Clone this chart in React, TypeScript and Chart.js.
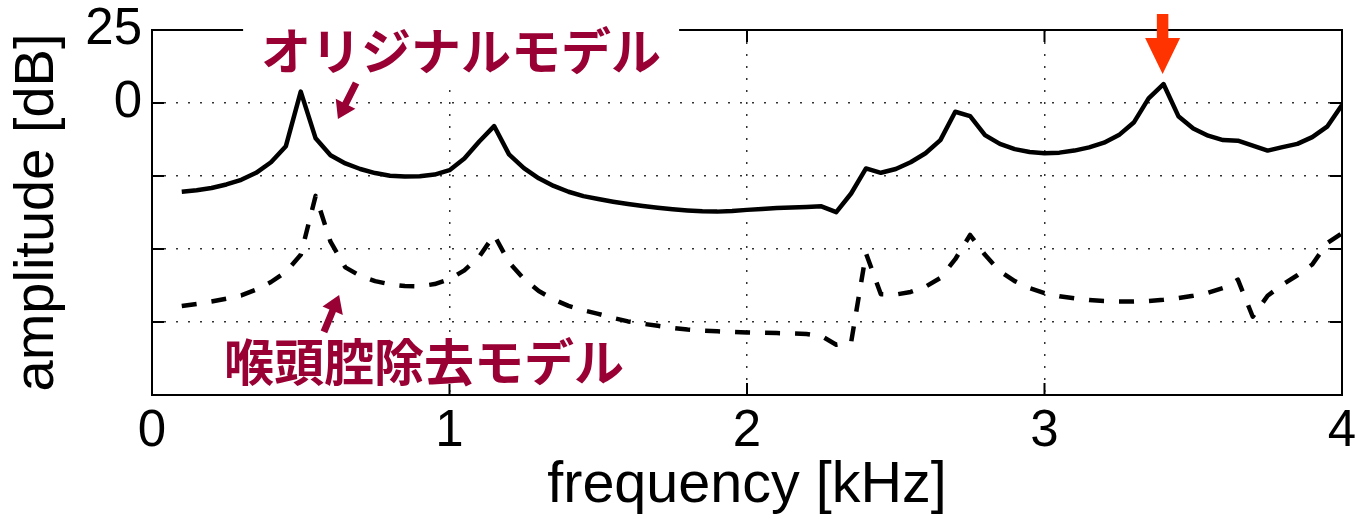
import React, { useEffect, useRef } from 'react';
import { Chart, registerables } from 'chart.js';

Chart.register(...registerables);

// ---- data ----
const frequencyKHz = [
  0.10, 0.15, 0.20, 0.25, 0.30, 0.35, 0.40, 0.45, 0.50, 0.55,
  0.60, 0.65, 0.70, 0.75, 0.80, 0.85, 0.90, 0.95, 1.00, 1.05,
  1.10, 1.15, 1.20, 1.25, 1.30, 1.35, 1.40, 1.45, 1.50, 1.55,
  1.60, 1.65, 1.70, 1.75, 1.80, 1.85, 1.90, 1.95, 2.00, 2.05,
  2.10, 2.15, 2.20, 2.25, 2.30, 2.35, 2.40, 2.45, 2.50, 2.55,
  2.60, 2.65, 2.70, 2.75, 2.80, 2.85, 2.90, 2.95, 3.00, 3.05,
  3.10, 3.15, 3.20, 3.25, 3.30, 3.35, 3.40, 3.45, 3.50, 3.55,
  3.60, 3.65, 3.70, 3.75, 3.80, 3.85, 3.90, 3.95, 4.00,
];

const originalModelDb = [
  -30.4, -29.9, -29.1, -27.9, -26.3, -23.9, -20.3, -14.8, 3.9, -12.1,
  -17.9, -20.7, -22.6, -24.0, -24.9, -25.2, -25.1, -24.5, -23.0, -19.0,
  -13.2, -7.9, -17.6, -22.3, -25.8, -28.4, -30.4, -31.9, -32.9, -33.8,
  -34.6, -35.3, -35.9, -36.4, -36.8, -37.1, -37.2, -37.0, -36.6, -36.3,
  -36.0, -35.8, -35.6, -35.4, -37.4, -31.0, -22.4, -23.9, -22.6, -20.3,
  -17.2, -12.7, -3.0, -4.5, -11.0, -14.0, -15.8, -16.8, -17.2, -17.0,
  -16.3, -15.2, -13.6, -11.0, -6.7, 1.6, 6.5, -4.5, -8.7, -11.2,
  -12.7, -12.9, -14.6, -16.3, -15.1, -14.0, -11.7, -8.1, -0.7,
];

const larynxRemovedDb = [
  -69.5, -68.8, -68.0, -67.0, -65.9, -63.9, -61.3, -57.8, -52.0, -31.8,
  -47.5, -56.3, -59.2, -61.0, -62.1, -62.7, -62.8, -62.0, -60.3, -57.3,
  -52.6, -45.2, -54.6, -60.2, -64.4, -67.3, -69.5, -71.0, -72.2, -73.6,
  -74.8, -75.6, -76.3, -77.0, -77.6, -78.0, -78.2, -78.4, -78.6, -78.7,
  -78.8, -78.9, -79.1, -79.8, -82.8, -82.0, -51.5, -65.5, -65.6, -64.7,
  -62.9, -59.9, -53.5, -45.2, -52.0, -57.6, -61.0, -63.4, -65.1, -66.2,
  -66.9, -67.5, -67.8, -68.0, -68.0, -67.8, -67.4, -66.8, -66.0, -65.0,
  -63.4, -60.5, -73.2, -66.0, -62.2, -59.0, -55.3, -48.0, -44.6,
];

const xTickValues = [0, 1, 2, 3, 4];
const yTickValues = [25, 0, -25, -50, -75, -100];
const yLabeledTicks = [25, 0];

const xTitle = 'frequency [kHz]';
const yTitle = 'amplitude [dB]';
const originalLabel = 'オリジナルモデル';
const removedLabel = '喉頭腔除去モデル';

const ANNOT = '#990033';
const RED = '#FF3300';
const AXIS_FONT = '"Liberation Sans", Arial, Helvetica, sans-serif';
const CJK_FONT = '"Noto Sans CJK JP", "Noto Sans CJK SC", sans-serif';

function drawArrow(
  ctx: CanvasRenderingContext2D,
  x0: number, y0: number, x1: number, y1: number,
  shaftW: number, headLen: number, headW: number, color: string,
) {
  const dx = x1 - x0, dy = y1 - y0;
  const L = Math.hypot(dx, dy);
  const ux = dx / L, uy = dy / L;
  const px = -uy, py = ux;
  const bx = x1 - ux * headLen, by = y1 - uy * headLen;
  ctx.save();
  ctx.fillStyle = color;
  ctx.beginPath();
  ctx.moveTo(x0 + px * shaftW / 2, y0 + py * shaftW / 2);
  ctx.lineTo(bx + px * shaftW / 2, by + py * shaftW / 2);
  ctx.lineTo(bx + px * headW / 2, by + py * headW / 2);
  ctx.lineTo(x1, y1);
  ctx.lineTo(bx - px * headW / 2, by - py * headW / 2);
  ctx.lineTo(bx - px * shaftW / 2, by - py * shaftW / 2);
  ctx.lineTo(x0 - px * shaftW / 2, y0 - py * shaftW / 2);
  ctx.closePath();
  ctx.fill();
  ctx.restore();
}

const frameAndAnnotations = {
  id: 'frameAndAnnotations',
  afterDatasetsDraw(chart: any) {
    const { ctx, chartArea: a, scales } = chart;
    const xs = scales.x, ys = scales.y;
    ctx.save();
    ctx.strokeStyle = '#000';
    ctx.lineWidth = 2;
    ctx.setLineDash([]);
    ctx.strokeRect(a.left, a.top, a.right - a.left, a.bottom - a.top);
    const tl = 12;
    ctx.beginPath();
    for (const v of yTickValues) {
      const y = ys.getPixelForValue(v);
      ctx.moveTo(a.left, y); ctx.lineTo(a.left + tl, y);
      ctx.moveTo(a.right, y); ctx.lineTo(a.right - tl, y);
    }
    for (const v of xTickValues) {
      const x = xs.getPixelForValue(v);
      ctx.moveTo(x, a.bottom); ctx.lineTo(x, a.bottom - tl);
      ctx.moveTo(x, a.top); ctx.lineTo(x, a.top + tl);
    }
    ctx.stroke();
    ctx.restore();
  },
  afterDraw(chart: any) {
    const { ctx, scales } = chart;
    const xs = scales.x, ys = scales.y;
    const X = (v: number) => xs.getPixelForValue(v);
    const Y = (v: number) => ys.getPixelForValue(v);
    ctx.save();
    ctx.textAlign = 'center';
    ctx.textBaseline = 'middle';

    // label 1 with white background box
    ctx.font = `bold 50px ${CJK_FONT}`;
    const c1x = X(1.039), c1y = Y(17.8);
    const w1 = ctx.measureText(originalLabel).width;
    ctx.fillStyle = '#fff';
    ctx.fillRect(c1x - w1 / 2 - 18, c1y - 41, w1 + 36, 76);
    ctx.fillStyle = ANNOT;
    ctx.fillText(originalLabel, c1x, c1y);

    // label 2
    const c2x = X(0.914), c2y = Y(-88.7);
    const w2 = ctx.measureText(removedLabel).width;
    ctx.fillStyle = '#fff';
    ctx.fillRect(c2x - w2 / 2 - 4, c2y - 25, w2 + 8, 47);
    ctx.fillStyle = ANNOT;
    ctx.fillText(removedLabel, c2x, c2y);

    // annotation arrows
    drawArrow(ctx, X(0.686), Y(6.85), X(0.625), Y(-5.48), 7, 17, 22, ANNOT);
    drawArrow(ctx, X(0.578), Y(-78.4), X(0.629), Y(-65.75), 7, 17, 22, ANNOT);
    drawArrow(ctx, X(3.397), Y(30.5), X(3.397), Y(9.9), 11.5, 36, 35, RED);
    ctx.restore();
  },
};

const zeroPadding = (s: any) => {
  s.paddingTop = 0;
  s.paddingBottom = 0;
  s.paddingLeft = 0;
  s.paddingRight = 0;
};

export default function App() {
  const ref = useRef<HTMLCanvasElement>(null);
  useEffect(() => {
    if (!ref.current) return;
    const chart = new Chart(ref.current, {
      type: 'line',
      data: {
        datasets: [
          {
            label: originalLabel,
            data: frequencyKHz.map((f, i) => ({ x: f, y: originalModelDb[i] })),
            borderColor: '#000',
            borderWidth: 4.5,
            pointRadius: 0,
            tension: 0,
            borderJoinStyle: 'round',
            fill: false,
          },
          {
            label: removedLabel,
            data: frequencyKHz.map((f, i) => ({ x: f, y: larynxRemovedDb[i] })),
            borderColor: '#000',
            borderWidth: 4.5,
            borderDash: [15, 15],
            pointRadius: 0,
            tension: 0,
            borderJoinStyle: 'round',
            fill: false,
          },
        ],
      },
      options: {
        animation: false,
        responsive: false,
        devicePixelRatio: 1,
        layout: { padding: { top: 30, right: 15, left: 0, bottom: 0 } },
        plugins: { legend: { display: false }, tooltip: { enabled: false } },
        scales: {
          x: {
            type: 'linear',
            min: 0,
            max: 4,
            afterBuildTicks: (s: any) => { s.ticks = xTickValues.map((v) => ({ value: v })); },
            afterFit: (s: any) => { s.height = 124; zeroPadding(s); },
            ticks: {
              color: '#000',
              padding: 6,
              font: { family: AXIS_FONT, size: 51 },
              maxRotation: 0,
              callback: (v: any) => String(v),
            },
            grid: {
              drawTicks: false,
              lineWidth: 1.5,
              color: (c: any) => (c.tick && (c.tick.value === 0 || c.tick.value === 4) ? 'rgba(0,0,0,0)' : 'rgba(0,0,0,0.8)'),
            },
            border: { display: false, dash: [2, 10] },
            title: {
              display: true,
              text: xTitle,
              color: '#000',
              font: { family: AXIS_FONT, size: 57.5 },
              padding: { top: 0, bottom: -2 },
            },
          },
          y: {
            type: 'linear',
            min: -100,
            max: 25,
            afterBuildTicks: (s: any) => { s.ticks = yTickValues.map((v) => ({ value: v })); },
            afterFit: (s: any) => { s.width = 152; zeroPadding(s); },
            ticks: {
              color: '#000',
              padding: 10,
              font: { family: AXIS_FONT, size: 51 },
              callback: (v: any) => (yLabeledTicks.includes(Number(v)) ? String(v) : ''),
            },
            grid: {
              drawTicks: false,
              lineWidth: 1.5,
              color: (c: any) => (c.tick && (c.tick.value === 25 || c.tick.value === -100) ? 'rgba(0,0,0,0)' : 'rgba(0,0,0,0.8)'),
            },
            border: { display: false, dash: [2, 10] },
            title: {
              display: true,
              text: yTitle,
              color: '#000',
              font: { family: AXIS_FONT, size: 56 },
              padding: { top: 4, bottom: 0 },
            },
          },
        },
      },
      plugins: [frameAndAnnotations],
    } as any);
    return () => chart.destroy();
  }, []);
  return (
    <div style={{ position: 'absolute', left: 0, top: 0, width: 1357, height: 519, background: '#fff' }}>
      <canvas ref={ref} width={1357} height={519} style={{ display: 'block', width: 1357, height: 519 }} />
    </div>
  );
}
